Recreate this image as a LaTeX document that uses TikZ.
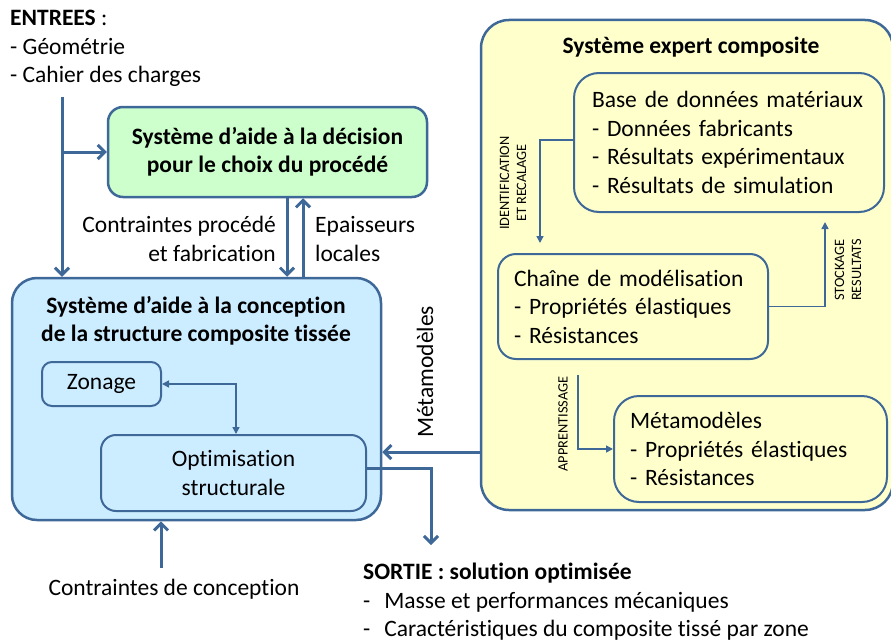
\documentclass[tikz,border=0pt]{standalone}
\usepackage{fontspec}
\setmainfont{Carlito}[Ligatures=CommonOff]
\usetikzlibrary{arrows.meta}
\definecolor{bordbleu}{RGB}{62,104,152}
\definecolor{fondvert}{RGB}{204,255,204}
\definecolor{fondbleu}{RGB}{204,236,255}
\definecolor{fondjaune}{RGB}{255,255,204}
\newcommand{\grand}{\fontsize{23.5}{28.5}\selectfont}
\newcommand{\petit}{\fontsize{14.3}{17}\selectfont}

\begin{document}
\begin{tikzpicture}[x=1pt, y=-1pt,
	every node/.style={font=\grand, inner sep=0pt},
	bloc/.style={draw=bordbleu, line width=2pt, rounded corners=#1}, bloc/.default=15pt,
	titre/.style={font=\grand\bfseries, align=center},
	gros/.style={bordbleu, line width=3pt, -{Straight Barb[length=7pt,width=14pt]}},
	fin/.style={bordbleu, line width=1.5pt, -{Triangle[length=7pt,width=7pt]}},
	vertical/.style={font=\petit, rotate=90, align=center}]
	\useasboundingbox (0,0) rectangle (891,642);
	% systeme expert
	\node[bloc=28pt, line width=2.5pt, fill=fondjaune, minimum width=412pt, minimum height=490pt] (expert) at (687,265) {};
	\node[titre] (expertTitre) at (691,47) {Système expert composite};
	\node[bloc=25pt, fill=fondjaune, minimum height=139pt, inner xsep=18pt, text width=274pt, align=left] (base) at (729,142.5) {Base de données matériaux\\- Données fabricants\\- Résultats expérimentaux\\- Résultats de simulation};
	\node[bloc=18pt, fill=fondjaune, minimum height=105pt, inner xsep=16pt, text width=238pt, align=left] (chaine) at (633,306.5) {Chaîne de modélisation\\- Propriétés élastiques\\- Résistances};
	\node[bloc=25pt, fill=fondjaune, minimum height=106pt, inner xsep=16pt, text width=241pt, align=left] (meta) at (750.5,449) {Métamodèles\\- Propriétés élastiques\\- Résistances};
	\coordinate (idHaut) at (540,140);
	\coordinate (idFin) at (540,243);
	\draw[fin] (base.west |- idHaut) -- (idHaut) -- (idFin);
	\node[vertical] (idLabel) at (513,183) {IDENTIFICATION\\ET RECALAGE};
	\coordinate (stkFin) at (825,222);
	\draw[fin] (chaine.east) -| (stkFin);
	\node[vertical] (stkLabel) at (848,270) {STOCKAGE\\RESULTATS};
	\coordinate (appHaut) at (578,375);
	\draw[fin] (appHaut) |- (meta.west);
	\node[vertical] (appLabel) at (563,424) {APPRENTISSAGE};
	% aide a la decision
	\node[bloc, line width=2.5pt, fill=fondvert, minimum width=319pt, minimum height=90pt, titre] (choix) at (267.5,152) {Système d’aide à la décision\\pour le choix du procédé};
	% aide a la conception
	\node[bloc=25pt, line width=2.5pt, fill=fondbleu, minimum width=369pt, minimum height=242pt] (conc) at (196.5,399) {};
	\node[titre] (concTitre) at (196,321) {Système d’aide à la conception\\de la structure composite tissée};
	\node[bloc=10pt, fill=fondbleu, minimum width=119pt, minimum height=44pt] (zon) at (101.5,384) {Zonage};
	\node[bloc, fill=fondbleu, minimum width=265pt, minimum height=76pt, align=center] (opt) at (233.5,473) {Optimisation\\structurale};
	\draw[fin, {Triangle[length=7pt,width=7pt]}-{Triangle[length=7pt,width=7pt]}] (zon.east) -| ([xshift=2.5pt]opt.north);
	% entrees
	\node[anchor=north west, align=left] (entrees) at (10,10) {\textbf{ENTREES} :\\- Géométrie\\- Cahier des charges};
	\coordinate (entIn) at (62,97);
	\draw[gros] (entIn) -- (entIn |- conc.north);
	\draw[gros] (entIn |- choix.west) -- (choix.west);
	\coordinate (desc) at (287,0);
	\coordinate (mont) at (303,0);
	\draw[gros] (desc |- choix.south) -- (desc |- conc.north);
	\draw[gros] (mont |- conc.north) -- (mont |- choix.south);
	\node[anchor=east, align=right] (contrProc) at (276,239) {Contraintes procédé\\et fabrication};
	\node[anchor=west, align=left] (epais) at (315,239) {Epaisseurs\\locales};
	% metamodeles
	\coordinate (metaFl) at (0,452);
	\draw[gros] (expert.west |- metaFl) -- (conc.east |- metaFl);
	\node[rotate=90] (metaLabel) at (425,372) {Métamodèles};
	% sortie
	\coordinate (sortFin) at (431,545);
	\draw[gros] ([yshift=5pt]opt.east) -| (sortFin);
	\node[anchor=north west, align=left] (sortie) at (363,563) {\textbf{SORTIE : solution optimisée}\\-\hspace{14pt}Masse et performances mécaniques\\-\hspace{14pt}Caractéristiques du composite tissé par zone};
	% contraintes de conception
	\node (contrConc) at (174,589) {Contraintes de conception};
	\coordinate (concIn) at (161,568);
	\draw[gros] (concIn) -- (concIn |- conc.south);
\end{tikzpicture}
\end{document}
